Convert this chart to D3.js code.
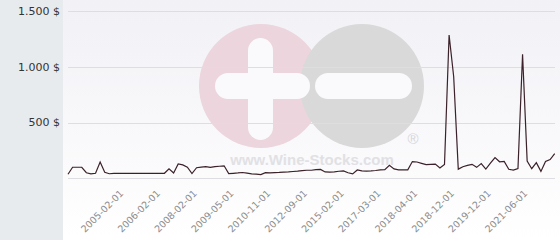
<!DOCTYPE html>
<html>
<head>
<meta charset="utf-8">
<script src="https://cdn.jsdelivr.net/npm/d3@7"></script>
<style>
  body { margin: 0; background: #fff; }
  svg { display: block; }
</style>
</head>
<body>
<div id="chart"></div>
<script>
// prices in $, one per auction (categorical axis)
const prices = [
  36, 99, 99, 99, 50, 39, 45, 146, 54, 41,
  45, 45, 45, 45, 45, 45, 45, 45, 45, 45,
  45, 45, 86, 48, 128, 120, 100, 42, 95, 100,
  104, 98, 104, 108, 112, 42, 45, 48, 52, 46,
  40, 37, 33, 50, 49, 51, 53, 56, 58, 61,
  64, 68, 72, 72, 78, 80, 57, 55, 58, 63,
  66, 50, 39, 75, 66, 64, 66, 70, 76, 78,
  117, 84, 76, 75, 76, 150, 146, 134, 122, 125,
  127, 92, 125, 1285, 910, 82, 104, 116, 125, 98,
  132, 82, 135, 186, 148, 152, 81, 73, 88, 1113,
  155, 86, 140, 62, 150, 168, 222
];
const tickIndex = [12, 20, 28, 36, 44, 52, 60, 68, 76, 84, 92, 100];
const tickLabels = [
  "2005-02-01", "2006-02-01", "2008-02-01", "2009-05-01", "2010-11-01", "2012-09-01",
  "2015-02-01", "2017-03-01", "2018-04-01", "2018-12-01", "2019-12-01", "2021-06-01"
];
const yTicks = [500, 1000, 1500];

const W = 560, H = 240;
const svg = d3.select("#chart").append("svg")
  .attr("width", W)
  .attr("height", H)
  .style("font-family", "'DejaVu Sans', sans-serif");

const defs = svg.append("defs");
const grad = defs.append("linearGradient")
  .attr("id", "bg").attr("x1", 0).attr("y1", 0).attr("x2", 0).attr("y2", 1);
grad.append("stop").attr("offset", "0%").attr("stop-color", "#f1f1f6");
grad.append("stop").attr("offset", "100%").attr("stop-color", "#ffffff");

// left panel + plot background
svg.append("rect").attr("width", 63).attr("height", H).attr("fill", "#e7ebee");
svg.append("rect").attr("x", 63).attr("width", W - 63).attr("height", H).attr("fill", "url(#bg)");

const x = d3.scaleLinear().domain([0, prices.length - 1]).range([68, 554.7]);
const y = d3.scaleLinear().domain([0, 1500]).range([178.3, 11]);

// watermark
const wm = svg.append("g");
wm.append("circle").attr("cx", 261).attr("cy", 86).attr("r", 62).attr("fill", "#ecd5dc");
wm.append("circle").attr("cx", 362).attr("cy", 86).attr("r", 62).attr("fill", "#d9d9da");
wm.append("rect").attr("x", 248).attr("y", 38).attr("width", 25).attr("height", 102).attr("rx", 12.5).attr("fill", "#fafafc");
wm.append("rect").attr("x", 215).attr("y", 73).attr("width", 95).attr("height", 26).attr("rx", 13).attr("fill", "#fafafc");
wm.append("rect").attr("x", 315).attr("y", 73).attr("width", 97).attr("height", 26).attr("rx", 13).attr("fill", "#fafafc");
wm.append("text").attr("x", 413).attr("y", 144).attr("text-anchor", "middle")
  .attr("font-size", 15).attr("fill", "#d6d6d8").attr("font-family", "'Liberation Sans', Arial, sans-serif")
  .text("®");
wm.append("text").attr("x", 312).attr("y", 165).attr("text-anchor", "middle")
  .attr("font-size", 15).attr("font-weight", "bold").attr("fill", "#e1e1e4")
  .attr("font-family", "'Liberation Sans', Arial, sans-serif")
  .text("www.Wine-Stocks.com");

// gridlines
svg.append("g")
  .selectAll("line")
  .data([0].concat(yTicks))
  .enter()
  .append("line")
    .attr("x1", 68).attr("x2", 555)
    .attr("y1", d => Math.round(y(d)) + 0.5)
    .attr("y2", d => Math.round(y(d)) + 0.5)
    .attr("stroke", "#dedee2")
    .attr("stroke-width", 1);

// y labels
svg.append("g")
  .selectAll("text")
  .data(yTicks)
  .enter()
  .append("text")
    .attr("x", 60)
    .attr("y", d => y(d))
    .attr("dy", "0.35em")
    .attr("text-anchor", "end")
    .attr("font-size", 11)
    .attr("fill", "#333")
    .text(d => d3.format(",")(d).replace(",", ".") + " $");

// x labels
svg.append("g")
  .selectAll("text")
  .data(tickIndex)
  .enter()
  .append("text")
    .attr("transform", d => `translate(${x(d) + 1},${194}) rotate(-45)`)
    .attr("text-anchor", "end")
    .attr("font-size", 9.5)
    .attr("fill", "#8c8c8c")
    .text((d, i) => tickLabels[i]);

// price line
const line = d3.line()
  .x((d, i) => x(i))
  .y(d => y(d));

svg.append("path")
  .datum(prices)
  .attr("d", line)
  .attr("fill", "none")
  .attr("stroke", "#3b2129")
  .attr("stroke-width", 1.2);
</script>
</body>
</html>
